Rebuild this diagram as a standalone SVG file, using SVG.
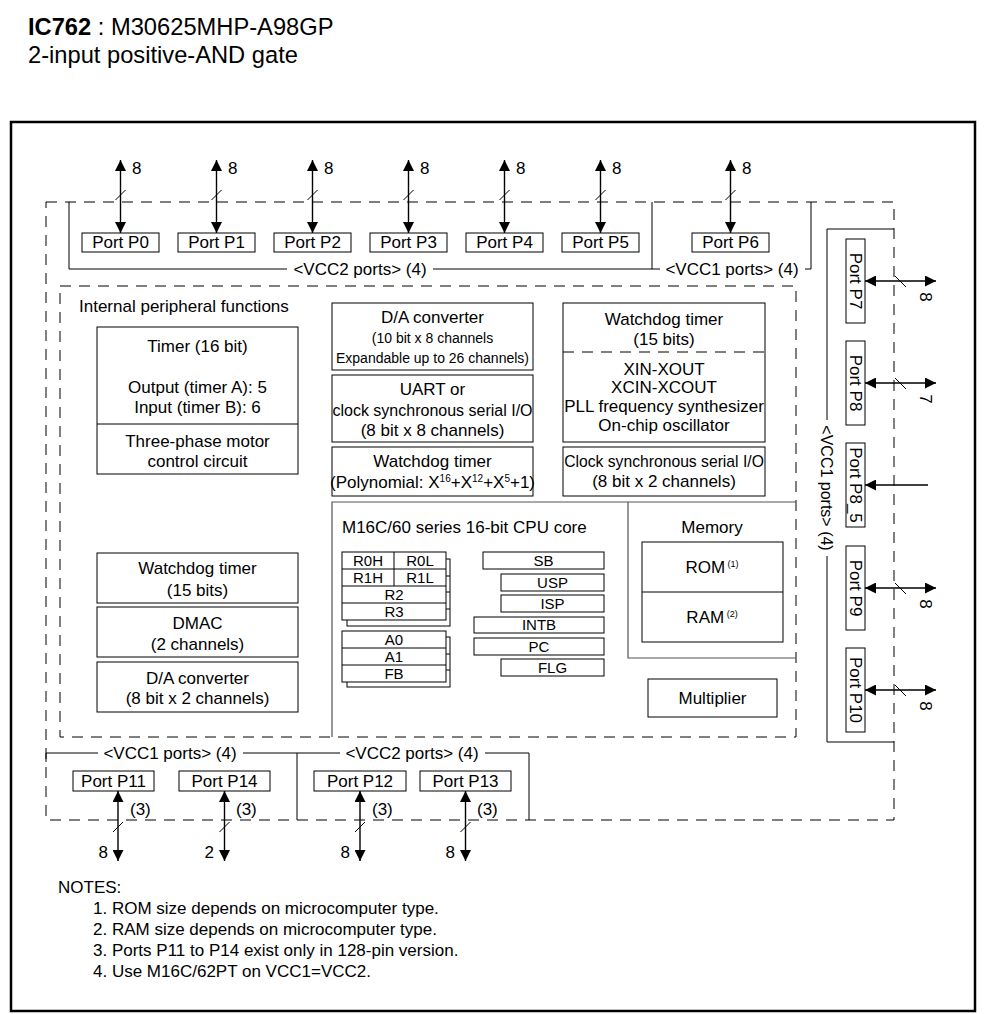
<svg xmlns="http://www.w3.org/2000/svg" width="991" height="1014" viewBox="0 0 991 1014">
<style>
.t{font-family:"Liberation Sans",Arial,Helvetica,sans-serif;font-size:17px;fill:#000}
.c{text-anchor:middle}
.e{text-anchor:end}
.s14{font-size:14px}
.s15{font-size:15px}
.box{fill:#fff;stroke:#000;stroke-width:1}
.gbox{fill:none;stroke:#555;stroke-width:1.2}
.ln{fill:none;stroke:#000;stroke-width:1}
.dash{fill:none;stroke:#000;stroke-width:1;stroke-dasharray:11 8}
.arr{fill:none;stroke:#000;stroke-width:1.4;marker-start:url(#ah);marker-end:url(#ah)}
.arr1{fill:none;stroke:#000;stroke-width:1.4;marker-end:url(#ah)}
.sl{stroke:#000;stroke-width:1}
</style>
<defs>
<marker id="ah" viewBox="0 0 10 10" refX="10" refY="5" markerWidth="11" markerHeight="11" markerUnits="userSpaceOnUse" orient="auto-start-reverse"><path d="M0,0 L10,5 L0,10 z" fill="#000"/></marker>
</defs>
<rect width="991" height="1014" fill="#fff"/>

<g id="title">
<text class="t" x="28" y="35" style="font-size:23.7px"><tspan font-weight="bold">IC762</tspan> : M30625MHP-A98GP</text>
<text class="t" x="28" y="63" style="font-size:23.7px">2-input positive-AND gate</text>
</g>

<g id="frame">
<rect x="11" y="122" width="964" height="889" fill="none" stroke="#000" stroke-width="2.5"/>
<rect class="dash" x="46" y="202" width="848" height="618"/>
<rect class="dash" x="60" y="286" width="736" height="451"/>
</g>

<g id="brackets">
<path class="ln" d="M69,202 V269 H287 M433,269 H660 M652,202 V269 M805,269 H811 V202"/>
<text class="t c" x="360" y="275">&lt;VCC2 ports&gt; (4)</text>
<text class="t c" x="732" y="275">&lt;VCC1 ports&gt; (4)</text>
<path class="ln" d="M894,229 H827 V420 M827,556 V742 H894"/>
<text class="t c" transform="translate(827,488) rotate(90)" y="6" style="font-size:16px">&lt;VCC1 ports&gt; (4)</text>
<path class="ln" d="M46,762 V753 H98 M243,753 H340 M297,753 V820 M485,753 H529 V820"/>
<text class="t c" x="170" y="759">&lt;VCC1 ports&gt; (4)</text>
<text class="t c" x="412" y="759">&lt;VCC2 ports&gt; (4)</text>
</g>

<g id="port-p0"><rect class="box" x="82" y="233" width="77" height="19"/><text class="t c" x="120.5" y="248">Port P0</text></g>
<g id="port-p1"><rect class="box" x="178" y="233" width="77" height="19"/><text class="t c" x="216.5" y="248">Port P1</text></g>
<g id="port-p2"><rect class="box" x="274" y="233" width="77" height="19"/><text class="t c" x="312.5" y="248">Port P2</text></g>
<g id="port-p3"><rect class="box" x="370" y="233" width="77" height="19"/><text class="t c" x="408.5" y="248">Port P3</text></g>
<g id="port-p4"><rect class="box" x="466" y="233" width="77" height="19"/><text class="t c" x="504.5" y="248">Port P4</text></g>
<g id="port-p5"><rect class="box" x="562" y="233" width="77" height="19"/><text class="t c" x="600.5" y="248">Port P5</text></g>
<g id="port-p6"><rect class="box" x="692" y="233" width="77" height="19"/><text class="t c" x="730.5" y="248">Port P6</text></g>

<g id="port-p7"><rect class="box" x="846" y="239" width="19" height="84"/><text class="t c" transform="translate(855.5,281) rotate(90)" y="6">Port P7</text></g>
<g id="port-p8"><rect class="box" x="846" y="341" width="19" height="84"/><text class="t c" transform="translate(855.5,383) rotate(90)" y="6">Port P8</text></g>
<g id="port-p8-5"><rect class="box" x="846" y="443" width="19" height="84"/><text class="t c" transform="translate(855.5,485) rotate(90)" y="6">Port P8_5</text></g>
<g id="port-p9"><rect class="box" x="846" y="546" width="19" height="84"/><text class="t c" transform="translate(855.5,588) rotate(90)" y="6">Port P9</text></g>
<g id="port-p10"><rect class="box" x="846" y="648" width="19" height="84"/><text class="t c" transform="translate(855.5,690) rotate(90)" y="6">Port P10</text></g>

<g id="port-p11"><rect class="box" x="73" y="771" width="81" height="20"/><text class="t c" x="113.5" y="787">Port P11</text></g>
<g id="port-p14"><rect class="box" x="179" y="771" width="91" height="20"/><text class="t c" x="224.5" y="787">Port P14</text></g>
<g id="port-p12"><rect class="box" x="314" y="771" width="92" height="20"/><text class="t c" x="360" y="787">Port P12</text></g>
<g id="port-p13"><rect class="box" x="420" y="771" width="91" height="20"/><text class="t c" x="465.5" y="787">Port P13</text></g>

<g id="internal-label"><text class="t" x="79" y="312">Internal peripheral functions</text></g>

<g id="timer">
<rect class="box" x="97" y="327" width="201" height="147"/>
<line class="ln" x1="97" y1="424" x2="298" y2="424"/>
<text class="t c" x="197.5" y="352">Timer (16 bit)</text>
<text class="t c" x="197.5" y="393">Output (timer A): 5</text>
<text class="t c" x="197.5" y="413">Input (timer B): 6</text>
<text class="t c" x="197.5" y="447">Three-phase motor</text>
<text class="t c" x="197.5" y="467">control circuit</text>
</g>

<g id="wdt-left"><rect class="box" x="97" y="553" width="201" height="50"/>
<text class="t c" x="197.5" y="574">Watchdog timer</text><text class="t c" x="197.5" y="596">(15 bits)</text></g>
<g id="dmac"><rect class="box" x="97" y="607" width="201" height="50"/>
<text class="t c" x="197.5" y="629">DMAC</text><text class="t c" x="197.5" y="650">(2 channels)</text></g>
<g id="da-left"><rect class="box" x="97" y="662" width="201" height="50"/>
<text class="t c" x="197.5" y="684">D/A converter</text><text class="t c" x="197.5" y="704">(8 bit x 2 channels)</text></g>

<g id="da-mid"><rect class="box" x="332" y="303" width="201" height="67"/>
<text class="t c" x="432.5" y="323">D/A converter</text>
<text class="t c s14" x="432.5" y="343">(10 bit x 8 channels</text>
<text class="t c s14" x="432.5" y="363">Expandable up to 26 channels)</text></g>
<g id="uart"><rect class="box" x="332" y="375" width="201" height="67"/>
<text class="t c" x="432.5" y="395">UART or</text>
<text class="t c" x="432.5" y="416" style="font-size:16px">clock synchronous serial I/O</text>
<text class="t c" x="432.5" y="436">(8 bit x 8 channels)</text></g>
<g id="wdt-poly"><rect class="box" x="332" y="447" width="201" height="49"/>
<text class="t c" x="432.5" y="467">Watchdog timer</text>
<text class="t c" x="432.5" y="488">(Polynomial: X<tspan font-size="10" dy="-6">16</tspan><tspan dy="6">+X</tspan><tspan font-size="10" dy="-6">12</tspan><tspan dy="6">+X</tspan><tspan font-size="10" dy="-6">5</tspan><tspan dy="6">+1)</tspan></text></g>

<g id="wdt-osc"><rect class="box" x="563" y="303" width="202" height="139"/>
<line class="dash" x1="563" y1="352" x2="765" y2="352"/>
<text class="t c" x="664" y="325">Watchdog timer</text>
<text class="t c" x="664" y="345">(15 bits)</text>
<text class="t c" x="664" y="375">XIN-XOUT</text>
<text class="t c" x="664" y="393">XCIN-XCOUT</text>
<text class="t c" x="664" y="412">PLL frequency synthesizer</text>
<text class="t c" x="664" y="431">On-chip oscillator</text></g>
<g id="clk-sio"><rect class="box" x="563" y="447" width="202" height="49"/>
<text class="t c" x="664" y="467" style="font-size:15.7px">Clock synchronous serial I/O</text>
<text class="t c" x="664" y="487">(8 bit x 2 channels)</text></g>

<g id="cpu-core">
<path class="gbox" d="M332,737 V502 H796"/>
<text class="t" x="342" y="533">M16C/60 series 16-bit CPU core</text>
<rect class="box" x="347" y="559" width="103" height="67"/>
<path class="ln" d="M446,576 H450 M446,592 H450 M446,609 H450"/>
<rect class="box" x="342" y="552" width="104" height="68"/>
<path class="ln" d="M342,569 H446 M342,586 H446 M342,603 H446 M394,552 V586"/>
<text class="t c s15" x="368" y="566">R0H</text><text class="t c s15" x="420" y="566">R0L</text>
<text class="t c s15" x="368" y="583">R1H</text><text class="t c s15" x="420" y="583">R1L</text>
<text class="t c s15" x="394" y="600">R2</text><text class="t c s15" x="394" y="617">R3</text>
<rect class="box" x="347" y="637" width="103" height="50"/>
<path class="ln" d="M446,654 H450 M446,670 H450"/>
<rect class="box" x="342" y="631" width="104" height="51"/>
<path class="ln" d="M342,648 H446 M342,665 H446"/>
<text class="t c s15" x="394" y="645">A0</text><text class="t c s15" x="394" y="662">A1</text><text class="t c s15" x="394" y="679">FB</text>
<rect class="box" x="483" y="552" width="121" height="17"/><text class="t c s15" x="543.5" y="566">SB</text>
<rect class="box" x="501" y="574" width="103" height="17"/><text class="t c s15" x="552.5" y="588">USP</text>
<rect class="box" x="501" y="595" width="103" height="17"/><text class="t c s15" x="552.5" y="609">ISP</text>
<rect class="box" x="474" y="617" width="130" height="16"/><text class="t c s15" x="539" y="630">INTB</text>
<rect class="box" x="474" y="638" width="130" height="17"/><text class="t c s15" x="539" y="652">PC</text>
<rect class="box" x="501" y="659" width="103" height="17"/><text class="t c s15" x="552.5" y="673">FLG</text>
</g>

<g id="memory">
<path class="gbox" d="M628,502 V658 H796"/>
<text class="t c" x="712" y="533">Memory</text>
<rect class="box" x="642" y="542" width="141" height="100"/>
<line class="ln" x1="642" y1="592" x2="783" y2="592"/>
<text class="t c" x="712" y="573">ROM<tspan font-size="9" dy="-6"> (1)</tspan></text>
<text class="t c" x="712" y="623">RAM<tspan font-size="9" dy="-6"> (2)</tspan></text>
</g>

<g id="multiplier"><rect class="box" x="648" y="679" width="129" height="38"/><text class="t c" x="712.5" y="704">Multiplier</text></g>

<g id="connectors">
<line class="arr" x1="120.5" y1="233" x2="120.5" y2="160"/>
<line class="arr" x1="216.5" y1="233" x2="216.5" y2="160"/>
<line class="arr" x1="312.5" y1="233" x2="312.5" y2="160"/>
<line class="arr" x1="408.5" y1="233" x2="408.5" y2="160"/>
<line class="arr" x1="504.5" y1="233" x2="504.5" y2="160"/>
<line class="arr" x1="600.5" y1="233" x2="600.5" y2="160"/>
<line class="arr" x1="730.5" y1="233" x2="730.5" y2="160"/>
<path class="sl" d="M115.5,200 L125.5,190 M211.5,200 L221.5,190 M307.5,200 L317.5,190 M403.5,200 L413.5,190 M499.5,200 L509.5,190 M595.5,200 L605.5,190 M725.5,200 L735.5,190"/>
<text class="t" x="132" y="174">8</text><text class="t" x="228" y="174">8</text><text class="t" x="324" y="174">8</text><text class="t" x="420" y="174">8</text><text class="t" x="516" y="174">8</text><text class="t" x="612" y="174">8</text><text class="t" x="742" y="174">8</text>

<line class="arr" x1="865" y1="281" x2="936" y2="281"/>
<line class="arr" x1="865" y1="383" x2="936" y2="383"/>
<line class="arr1" x1="928" y1="485" x2="865" y2="485"/>
<line class="arr" x1="865" y1="588" x2="936" y2="588"/>
<line class="arr" x1="865" y1="690" x2="936" y2="690"/>
<path class="sl" d="M895,276 L906,287 M895,378 L906,389 M895,583 L906,594 M895,685 L906,696"/>
<text class="t c" transform="translate(926,297) rotate(90)" y="6">8</text>
<text class="t c" transform="translate(926,399) rotate(90)" y="6">7</text>
<text class="t c" transform="translate(926,604) rotate(90)" y="6">8</text>
<text class="t c" transform="translate(926,706) rotate(90)" y="6">8</text>

<line class="arr" x1="118" y1="791" x2="118" y2="861"/>
<line class="arr" x1="224.5" y1="791" x2="224.5" y2="861"/>
<line class="arr" x1="360" y1="791" x2="360" y2="861"/>
<line class="arr" x1="465.5" y1="791" x2="465.5" y2="861"/>
<path class="sl" d="M113,832 L123,822 M219.5,832 L229.5,822 M355,832 L365,822 M460.5,832 L470.5,822"/>
<text class="t" x="130" y="815">(3)</text><text class="t" x="236" y="815">(3)</text><text class="t" x="372" y="815">(3)</text><text class="t" x="477" y="815">(3)</text>
<text class="t e" x="108" y="858">8</text><text class="t e" x="214" y="858">2</text><text class="t e" x="350" y="858">8</text><text class="t e" x="455" y="858">8</text>
</g>

<g id="notes">
<text class="t" x="58" y="893">NOTES:</text>
<text class="t" x="93" y="914">1. ROM size depends on microcomputer type.</text>
<text class="t" x="93" y="935">2. RAM size depends on microcomputer type.</text>
<text class="t" x="93" y="956">3. Ports P11 to P14 exist only in 128-pin version.</text>
<text class="t" x="93" y="977">4. Use M16C/62PT on VCC1=VCC2.</text>
</g>
</svg>
